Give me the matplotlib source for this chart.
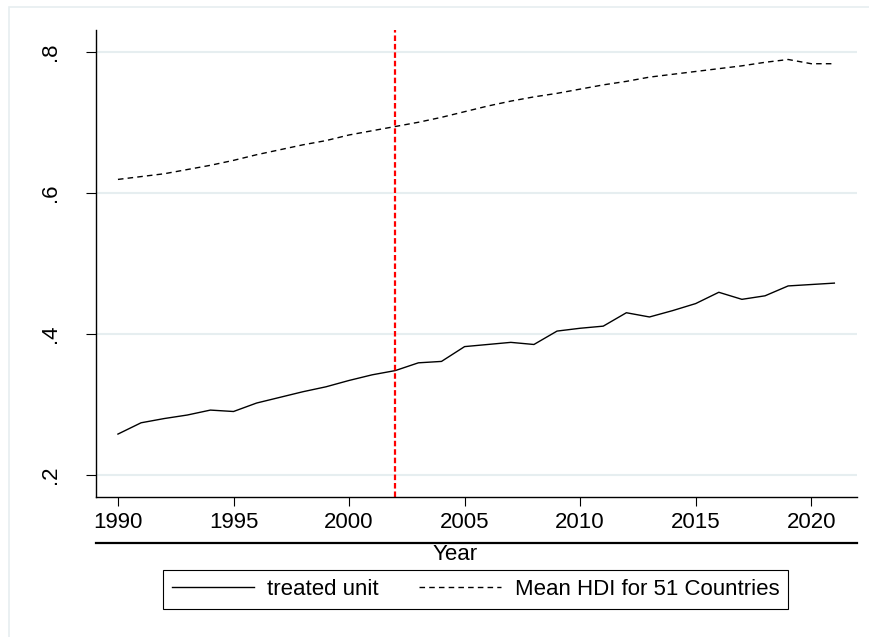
import matplotlib.pyplot as plt
import numpy as np
from matplotlib.lines import Line2D
from matplotlib.patches import Rectangle

# data
years = np.arange(1990, 2022)
treated = [0.258, 0.274, 0.280, 0.285, 0.292, 0.290, 0.302, 0.310, 0.318, 0.325,
           0.334, 0.342, 0.348, 0.359, 0.361, 0.382, 0.385, 0.388, 0.385, 0.404,
           0.408, 0.411, 0.430, 0.424, 0.433, 0.443, 0.459, 0.449, 0.454, 0.468,
           0.470, 0.472]
mean_hdi = [0.619, 0.623, 0.627, 0.633, 0.639, 0.646, 0.654, 0.661, 0.668, 0.674,
            0.682, 0.688, 0.694, 0.700, 0.707, 0.715, 0.723, 0.730, 0.736, 0.741,
            0.747, 0.753, 0.758, 0.764, 0.768, 0.772, 0.776, 0.780, 0.785, 0.789,
            0.783, 0.783]
treat_year = 2002
xticks = [1990, 1995, 2000, 2005, 2010, 2015, 2020]
yticks = [0.2, 0.4, 0.6, 0.8]
ytick_labels = ['.2', '.4', '.6', '.8']
labels = ['treated unit', 'Mean HDI for 51 Countries']

plt.rcParams['font.family'] = ['Liberation Sans', 'DejaVu Sans']
plt.rcParams['font.size'] = 16

W, H = 869, 637
fig = plt.figure(figsize=(W / 100, H / 100), dpi=100)
ax = fig.add_axes([96 / W, 1 - 497 / H, (857 - 96) / W, (497 - 30) / H])

# outer light frame
fig.patches.append(Rectangle((9 / W, -0.1), 1.2, 1 - 7 / H + 0.1, transform=fig.transFigure,
                             fill=False, edgecolor='#e6eef0', linewidth=1.2))

ax.grid(axis='y', color='#e6eef0', linewidth=1.5)
ax.set_axisbelow(True)
ax.plot(years, treated, color='black', linewidth=1.0, label=labels[0])
ax.plot(years, mean_hdi, color='black', linewidth=1.0, linestyle=(0, (4, 3)), label=labels[1])
ax.axvline(treat_year, color='red', linewidth=1.6, linestyle=(0, (2.5, 1.3)))

ax.set_xlim(1989.05, 2021.98)
ax.set_ylim(0.1688, 0.8308)
ax.set_xticks(xticks)
ax.set_yticks(yticks)
ax.set_yticklabels(ytick_labels, rotation=90, va='center')
ax.tick_params(axis='x', length=6.5, width=0.8, pad=4.5)
ax.tick_params(axis='y', length=7, width=0.8, pad=18)
for s in ['top', 'right']:
    ax.spines[s].set_visible(False)
for s in ['left', 'bottom']:
    ax.spines[s].set_linewidth(1.0)

# thick rule under the tick labels and the axis title
fig.add_artist(Line2D([96 / W, 857 / W], [1 - 543.3 / H] * 2, color='black', linewidth=1.6))
fig.text(455.5 / W, 1 - 554 / H, 'Year', ha='center', va='center')

leg = fig.legend(loc='center', bbox_to_anchor=(475.5 / W, 1 - 589.5 / H), ncol=2,
                 handlelength=3.7, handletextpad=0.6, columnspacing=1.8,
                 fancybox=False, edgecolor='black', framealpha=1, borderpad=0.4)
leg.get_frame().set_linewidth(0.8)

plt.savefig('out.png', dpi=100)
